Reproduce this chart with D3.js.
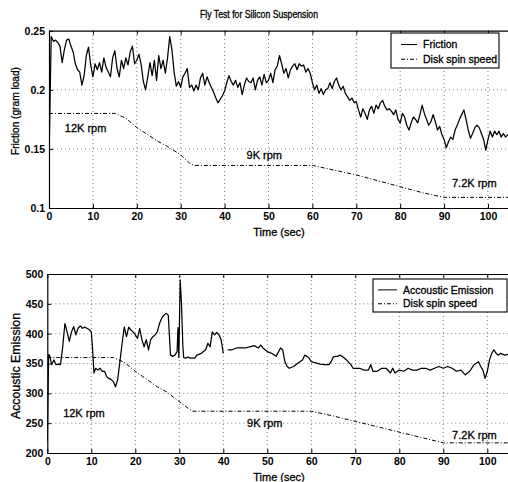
<!DOCTYPE html>
<html>
<head>
<meta charset="utf-8">
<script src="https://cdn.jsdelivr.net/npm/d3@7"></script>
<style>
body { margin: 0; background: #fff; }
text { font-family: "Liberation Sans", Arial, sans-serif; fill: #000; }
.ink { stroke: #000; stroke-width: 0.3; }
</style>
</head>
<body>
<svg id="chart" width="508" height="482"></svg>
<script>
// tick values
var timeTicks = [0, 10, 20, 30, 40, 50, 60, 70, 80, 90, 100];
var frictionTicks = [0.1, 0.15, 0.2, 0.25];
var aeTicks = [200, 250, 300, 350, 400, 450, 500];

// friction, sampled every 0.5 s from t = 0
var frictionStep = 0.5;
var friction = [
  0.140, 0.245, 0.241, 0.242, 0.240, 0.237, 0.223, 0.234, 0.242, 0.243,
  0.237, 0.232, 0.222, 0.217, 0.215, 0.204, 0.212, 0.229, 0.236, 0.221,
  0.211, 0.222, 0.217, 0.223, 0.215, 0.227, 0.219, 0.215, 0.211, 0.227,
  0.233, 0.218, 0.211, 0.225, 0.218, 0.227, 0.221, 0.232, 0.237, 0.222,
  0.225, 0.230, 0.221, 0.207, 0.200, 0.211, 0.223, 0.212, 0.225, 0.208,
  0.229, 0.218, 0.225, 0.214, 0.227, 0.245, 0.234, 0.215, 0.203, 0.207,
  0.202, 0.211, 0.214, 0.218, 0.202, 0.204, 0.199, 0.204, 0.200, 0.210,
  0.214, 0.204, 0.211, 0.206, 0.202, 0.198, 0.193, 0.189, 0.192, 0.195,
  0.199, 0.206, 0.212, 0.207, 0.204, 0.208, 0.202, 0.206, 0.196, 0.204,
  0.210, 0.207, 0.206, 0.210, 0.200, 0.208, 0.211, 0.204, 0.213, 0.206,
  0.208, 0.214, 0.206, 0.217, 0.220, 0.229, 0.222, 0.214, 0.218, 0.210,
  0.217, 0.220, 0.222, 0.217, 0.222, 0.220, 0.221, 0.215, 0.218, 0.214,
  0.206, 0.200, 0.204, 0.197, 0.201, 0.196, 0.200, 0.201, 0.206, 0.201,
  0.207, 0.210, 0.204, 0.200, 0.203, 0.197, 0.194, 0.191, 0.193, 0.189,
  0.190, 0.183, 0.177, 0.184, 0.180, 0.175, 0.183, 0.186, 0.180, 0.187,
  0.184, 0.189, 0.191, 0.186, 0.183, 0.184, 0.182, 0.179, 0.183, 0.175,
  0.172, 0.180, 0.177, 0.170, 0.166, 0.172, 0.177, 0.175, 0.172, 0.179,
  0.187, 0.180, 0.175, 0.170, 0.173, 0.179, 0.173, 0.166, 0.169, 0.162,
  0.158, 0.151, 0.156, 0.160, 0.158, 0.166, 0.170, 0.175, 0.179, 0.183,
  0.175, 0.166, 0.159, 0.163, 0.168, 0.170, 0.168, 0.163, 0.158, 0.149,
  0.158, 0.165, 0.160, 0.165, 0.162, 0.165, 0.160, 0.163, 0.160, 0.162,
  0.161
];

// accoustic emission (null = gap in the record)
var aeTime = [
  0, 0.3, 0.5, 1, 1.5, 2, 2.5, 3, 3.5, 4, 4.5, 5, 5.5, 6, 6.5, 7, 7.5, 8, 8.5, 9, 9.5, 10,
  10.3, 10.6, 11, 11.5, 12, 12.5, 13, 13.5, 14, 14.5, 15, 15.5, 16, 16.5, 17, 17.5, 18, 18.5,
  19, 19.5, 20, 20.5, 21, 21.5, 22, 22.5, 23, 23.5, 24, 24.5, 25, 25.5, 26, 26.5, 27, 27.5,
  28, 28.5, 29, 29.5, 29.7, 29.9, 30.2, 30.5, 30.8, 31, 31.5, 32, 32.5, 33, 33.5, 34, 35, 36,
  36.5, 37, 37.5, 38, 38.5, 39, 39.5, 40, 40.5, 41, 42, 43, 44, 45, 46, 47, 48, 48.5, 49, 50,
  51, 52, 53, 53.5, 54, 54.5, 55, 56, 57, 58, 58.5, 59, 59.5, 60, 61, 62, 63, 64, 64.5, 65,
  65.5, 66, 66.5, 67, 68, 69, 69.5, 70, 71, 72, 73, 73.5, 74, 75, 76, 77, 78, 78.5, 79, 80,
  81, 82, 83, 84, 85, 86, 87, 88, 89, 90, 91, 92, 93, 94, 95, 96, 97, 98, 98.5, 99, 99.5,
  100, 100.5, 101, 101.5, 102, 102.5, 103, 104, 105
];
var aeValue = [
  220, 365, 364, 348, 356, 348, 349, 348, 378, 417, 403, 387, 403, 412, 398, 409, 413, 409, 411, 409, 407, 403,
  373, 334, 342, 339, 342, 337, 337, 328, 325, 323, 320, 311, 323, 353, 384, 411, 395, 411,
  406, 403, 398, 392, 409, 390, 378, 390, 373, 390, 395, 398, 403, 417, 426, 431, 434, 431,
  364, 362, 364, 370, 410, 360, 490, 450, 380, 360, 359, 361, 359, 359, 359, 364, 367, 373,
  384, 378, 403, 398, 402, 398, 390, 367, null, 373, 373, 376, 376, 376, 378, 380, 376, 381, 376, 370,
  367, 362, 376, 373, 353, 345, 342, 345, 351, 356, 364, 362, 359, 353, 351, 349, 348, 348, 353, 361,
  362, 362, 364, 362, 356, 348, 342, 342, 342, 339, 339, 348, 337, 337, 342, 342, 334, 342, 334, 339,
  337, 342, 339, 339, 342, 342, 339, 342, 345, 342, 345, 342, 337, 339, 331, 337, 348, 353, 345, 339, 325,
  337, 356, 367, 373, 367, 364, 367, 364, 366
];

// disk spin speed trace, drawn on each panel's own scale
var spinTime = [0, 15, 17.5, 20, 25, 27, 30, 32, 33, 60, 65, 70, 75, 80, 85, 90, 105];
var spinFriction = [0.180, 0.180, 0.176, 0.168, 0.156, 0.152, 0.145, 0.138, 0.136, 0.136,
  0.132, 0.128, 0.123, 0.118, 0.113, 0.109, 0.109];
var spinAE = [360, 360, 352, 337, 311, 303, 286, 275, 270, 270, 262, 253, 244, 235, 226, 217, 217];

var rpmLabels = ["12K rpm", "9K rpm", "7.2K rpm"];

var svg = d3.select("#chart");
var spinDash = "4,2,1,2";

svg.append("text")
  .attr("class", "ink")
  .attr("x", 259).attr("y", 17.5)
  .attr("text-anchor", "middle")
  .attr("font-size", 10)
  .attr("textLength", 118).attr("lengthAdjust", "spacingAndGlyphs")
  .text("Fly Test for Silicon Suspension");

function drawPanel(o) {
  var x = d3.scaleLinear().domain([0, 105]).range([o.left, o.left + o.pxPerSec * 105]);
  var y = d3.scaleLinear().domain(o.yDomain).range([o.bottom, o.top]);
  var g = svg.append("g");

  g.append("clipPath").attr("id", o.id + "-clip")
    .append("rect")
    .attr("x", x(0)).attr("y", y(o.yDomain[1]))
    .attr("width", x(105) - x(0)).attr("height", y(o.yDomain[0]) - y(o.yDomain[1]));

  // dotted grid
  var grid = g.append("g").attr("stroke", "#444").attr("stroke-width", 0.7)
    .attr("stroke-dasharray", "1,3");
  grid.selectAll(".vg").data(timeTicks.slice(1)).join("line")
    .attr("x1", d => x(d)).attr("x2", d => x(d))
    .attr("y1", y(o.yDomain[0])).attr("y2", y(o.yDomain[1]));
  grid.selectAll(".hg").data(o.yTicks.slice(1, -1)).join("line")
    .attr("y1", d => y(d)).attr("y2", d => y(d))
    .attr("x1", x(0)).attr("x2", x(105));

  // series
  var plot = g.append("g").attr("clip-path", "url(#" + o.id + "-clip)");
  var line = d3.line().defined(d => d[1] != null).x(d => x(d[0])).y(d => y(d[1]));
  plot.append("path")
    .datum(spinTime.map((t, i) => [t, o.spin[i]]))
    .attr("fill", "none").attr("stroke", "#000").attr("stroke-width", 1)
    .attr("stroke-dasharray", spinDash)
    .attr("d", line);
  plot.append("path")
    .datum(o.series)
    .attr("fill", "none").attr("stroke", "#000").attr("stroke-width", 1.25)
    .attr("stroke-linejoin", "round")
    .attr("d", line);

  // axes with inward ticks
  var bottomAxis = g.append("g")
    .attr("transform", "translate(0," + y(o.yDomain[0]) + ")")
    .call(d3.axisBottom(x).tickValues(timeTicks).tickSizeInner(-4).tickSizeOuter(0).tickPadding(5));
  var topAxis = g.append("g")
    .attr("transform", "translate(0," + y(o.yDomain[1]) + ")")
    .call(d3.axisTop(x).tickValues(timeTicks).tickSizeInner(-4).tickSizeOuter(0).tickFormat(""));
  var leftAxis = g.append("g")
    .attr("transform", "translate(" + x(0) + ",0)")
    .call(d3.axisLeft(y).tickValues(o.yTicks).tickSizeInner(-4).tickSizeOuter(0).tickPadding(4)
      .tickFormat(d => String(d)));
  [bottomAxis, topAxis, leftAxis].forEach(function(a) {
    a.select(".domain").attr("stroke", "#000").attr("stroke-width", 1.2);
    a.selectAll("line").attr("stroke", "#000");
    a.selectAll("text").attr("font-size", 10.5).attr("font-weight", "bold")
      .attr("font-family", "'Liberation Sans', Arial, sans-serif");
  });

  g.append("text")
    .attr("class", "ink")
    .attr("x", 279).attr("y", y(o.yDomain[0]) + 28)
    .attr("text-anchor", "middle").attr("font-size", 11)
    .text("Time (sec)");

  g.append("text")
    .attr("class", "ink")
    .attr("transform", "translate(" + o.yLabelX + "," + o.yLabelY + ") rotate(-90)")
    .attr("text-anchor", "middle").attr("font-size", o.yLabelSize)
    .attr("textLength", o.yLabelLen).attr("lengthAdjust", "spacingAndGlyphs")
    .text(o.yLabel);

  // rpm annotations
  g.selectAll(".rpm").data(rpmLabels).join("text")
    .attr("class", "ink")
    .attr("x", (d, i) => x(o.rpmAt[i][0]))
    .attr("y", (d, i) => y(o.rpmAt[i][1]))
    .attr("dy", "0.35em").attr("font-size", 11)
    .text(d => d);

  // legend
  var lg = g.append("g").attr("transform", "translate(" + o.legend[0] + "," + o.legend[1] + ")");
  lg.append("rect").attr("width", o.legend[2]).attr("height", o.legend[3])
    .attr("fill", "#fff").attr("stroke", "#000").attr("stroke-width", 1.1);
  var rows = [[o.seriesName, null], ["Disk spin speed", spinDash]];
  rows.forEach(function(r, i) {
    var cy = o.legend[3] * (i === 0 ? 0.33 : 0.75);
    lg.append("line").attr("x1", o.legendLine[0]).attr("x2", o.legendLine[1])
      .attr("y1", cy).attr("y2", cy)
      .attr("stroke", "#000").attr("stroke-width", 1)
      .attr("stroke-dasharray", r[1]);
    lg.append("text").attr("class", "ink")
      .attr("x", o.legendLine[1] + 6).attr("y", cy)
      .attr("dy", "0.35em").attr("font-size", 10.5)
      .text(r[0]);
  });
}

drawPanel({
  id: "fric",
  left: 49, pxPerSec: 4.39, top: 30.7, bottom: 208,
  yDomain: [0.1, 0.25], yTicks: frictionTicks,
  series: friction.map((v, i) => [i * frictionStep, v]),
  spin: spinFriction,
  seriesName: "Friction",
  yLabel: "Friction (gram load)", yLabelX: 19, yLabelY: 111, yLabelSize: 10.5, yLabelLen: 88,
  rpmAt: [[3.6, 0.1677], [45.0, 0.1448], [91.8, 0.1209]],
  legend: [391, 33, 108, 35], legendLine: [10, 26]
});

drawPanel({
  id: "ae",
  left: 47.3, pxPerSec: 4.4, top: 274, bottom: 453,
  yDomain: [200, 500], yTicks: aeTicks,
  series: aeTime.map((t, i) => [t, aeValue[i]]),
  spin: spinAE,
  seriesName: "Accoustic Emission",
  yLabel: "Accoustic Emission", yLabelX: 20, yLabelY: 366, yLabelSize: 12, yLabelLen: 106,
  rpmAt: [[3.6, 266.5], [45.4, 249.8], [92.0, 230]],
  legend: [373, 279, 134, 33], legendLine: [5, 24]
});
</script>
</body>
</html>
